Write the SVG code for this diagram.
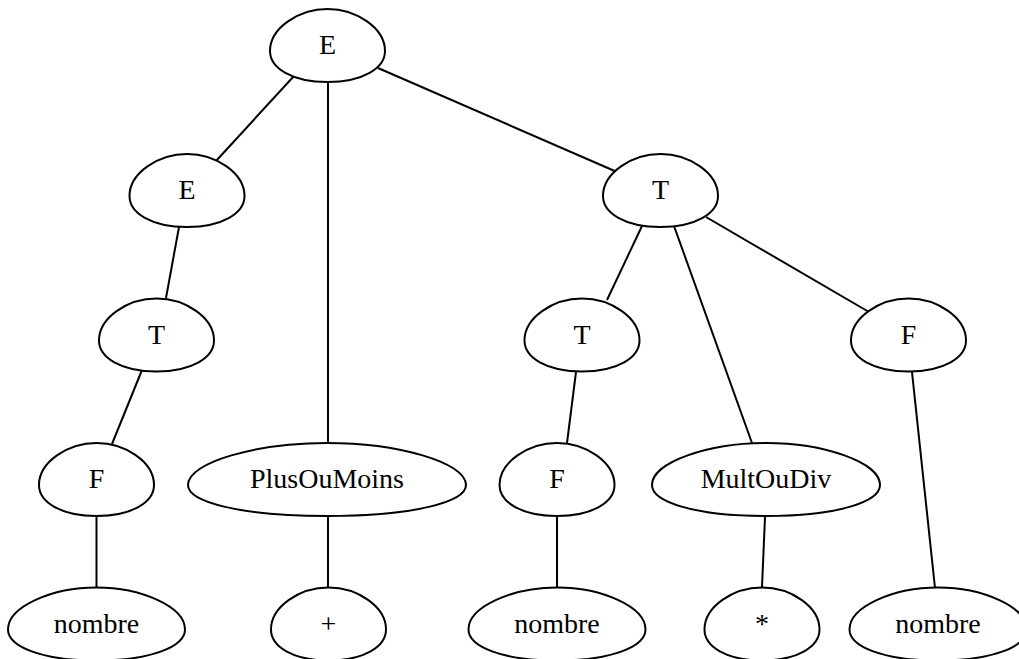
<svg xmlns="http://www.w3.org/2000/svg" xmlns:xlink="http://www.w3.org/1999/xlink" width="1019" height="659" viewBox="0 0 1019 659">
<style>
  .n { fill: #ffffff; stroke: #000000; stroke-width: 2; }
  .t { font-family: "Liberation Serif", "Times New Roman", serif; font-size: 28px; fill: #000000; text-anchor: middle; }
  .e line { stroke: #000000; stroke-width: 2; }
</style>
<defs>
  <path id="egg-s" d="M0,-36.5 c28.75,0 57.5,19 57.5,42 c0,17 -21.85,31 -57.5,31 c-35.65,0 -57.5,-14 -57.5,-31 c0,-23 28.75,-42 57.5,-42 z"/>
  <path id="egg-n" d="M0,-36.5 c44.25,0 88.5,19 88.5,42 c0,17 -33.63,31 -88.5,31 c-54.87,0 -88.5,-14 -88.5,-31 c0,-23 44.25,-42 88.5,-42 z"/>
  <path id="egg-p" d="M0,-36.5 c69.5,0 139,19 139,42 c0,17 -52.82,31 -139,31 c-86.18,0 -139,-14 -139,-31 c0,-23 69.5,-42 139,-42 z"/>
  <path id="egg-m" d="M0,-36.5 c57,0 114,19 114,42 c0,17 -43.32,31 -114,31 c-70.68,0 -114,-14 -114,-31 c0,-23 57,-42 114,-42 z"/>
</defs>
<rect width="1019" height="659" fill="#ffffff"/>
<g id="edges" class="e">
  <line x1="294" y1="76" x2="216" y2="161"/>
  <line x1="328" y1="82" x2="328" y2="443"/>
  <line x1="378" y1="68" x2="617" y2="172"/>
  <line x1="179" y1="227" x2="166" y2="298"/>
  <line x1="142" y1="370" x2="112" y2="444"/>
  <line x1="96.5" y1="517" x2="96.5" y2="587"/>
  <line x1="328" y1="516" x2="328" y2="587"/>
  <line x1="642" y1="226" x2="607" y2="300"/>
  <line x1="674" y1="226" x2="752" y2="443"/>
  <line x1="706" y1="217" x2="869" y2="312"/>
  <line x1="576" y1="372" x2="567" y2="443"/>
  <line x1="557" y1="516" x2="557" y2="587"/>
  <line x1="765" y1="517" x2="762" y2="587"/>
  <line x1="912" y1="372" x2="935" y2="588"/>
</g>
<g id="n_E0"><use xlink:href="#egg-s" class="n" x="327.5" y="45.5"/><text class="t" x="327.5" y="54">E</text></g>
<g id="n_E1"><use xlink:href="#egg-s" class="n" x="187" y="190.5"/><text class="t" x="187" y="199">E</text></g>
<g id="n_T0"><use xlink:href="#egg-s" class="n" x="660.5" y="190.5"/><text class="t" x="660.5" y="199">T</text></g>
<g id="n_T1"><use xlink:href="#egg-s" class="n" x="156.5" y="335"/><text class="t" x="156.5" y="343.5">T</text></g>
<g id="n_T2"><use xlink:href="#egg-s" class="n" x="582" y="335"/><text class="t" x="582" y="343.5">T</text></g>
<g id="n_F2"><use xlink:href="#egg-s" class="n" x="908.5" y="335"/><text class="t" x="908.5" y="343.5">F</text></g>
<g id="n_F0"><use xlink:href="#egg-s" class="n" x="96.5" y="479.5"/><text class="t" x="96.5" y="488">F</text></g>
<g id="n_POM"><use xlink:href="#egg-p" class="n" x="327" y="479.5"/><text class="t" x="327" y="488">PlusOuMoins</text></g>
<g id="n_F1"><use xlink:href="#egg-s" class="n" x="557" y="479.5"/><text class="t" x="557" y="488">F</text></g>
<g id="n_MOD"><use xlink:href="#egg-m" class="n" x="766" y="479.5"/><text class="t" x="766" y="488">MultOuDiv</text></g>
<g id="n_nb0"><use xlink:href="#egg-n" class="n" x="96.5" y="624"/><text class="t" x="96.5" y="632.5">nombre</text></g>
<g id="n_plus"><use xlink:href="#egg-s" class="n" x="328.5" y="624"/><text class="t" x="328.5" y="632.5">+</text></g>
<g id="n_nb1"><use xlink:href="#egg-n" class="n" x="557" y="624"/><text class="t" x="557" y="632.5">nombre</text></g>
<g id="n_star"><use xlink:href="#egg-s" class="n" x="762" y="624"/><text class="t" x="762" y="632.5">*</text></g>
<g id="n_nb2"><use xlink:href="#egg-n" class="n" x="938" y="624"/><text class="t" x="938" y="632.5">nombre</text></g>
</svg>
